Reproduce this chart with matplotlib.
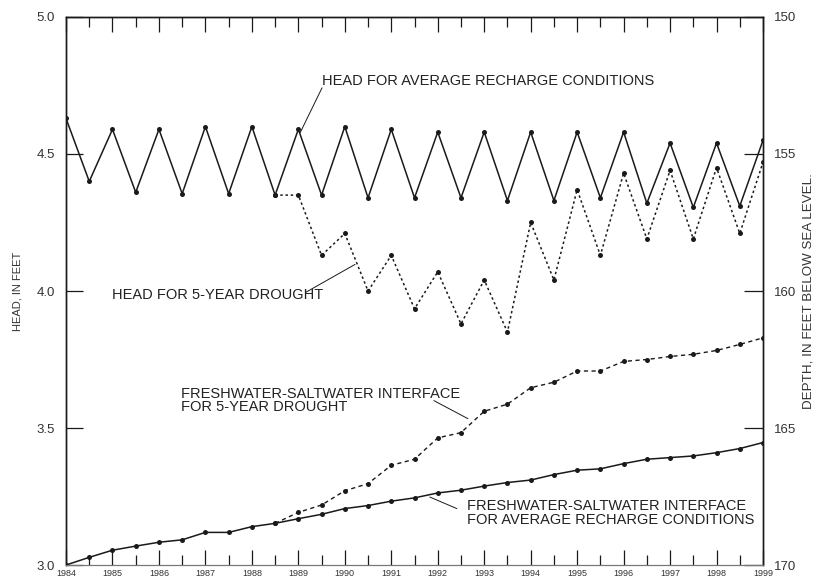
import matplotlib
matplotlib.use("Agg")
import matplotlib.pyplot as plt
import numpy as np

plt.rcParams['font.family'] = ['Liberation Sans', 'DejaVu Sans']

# time steps: half-year intervals 1984.0 .. 1999.0
years = [1984 + 0.5 * i for i in range(31)]
year_labels = [str(y) for y in range(1984, 2000)]

# head, in feet (left axis)
head_avg = [4.63, 4.40, 4.59, 4.36, 4.59, 4.355, 4.60, 4.355, 4.60, 4.35,
            4.59, 4.35, 4.60, 4.34, 4.59, 4.34, 4.58, 4.34, 4.58, 4.33,
            4.58, 4.33, 4.58, 4.34, 4.58, 4.32, 4.54, 4.305, 4.54, 4.31, 4.55]
head_drought = [4.63, 4.40, 4.59, 4.36, 4.59, 4.355, 4.60, 4.355, 4.60, 4.35,
                4.35, 4.13, 4.21, 4.00, 4.13, 3.935, 4.07, 3.88, 4.04, 3.85,
                4.25, 4.04, 4.37, 4.13, 4.43, 4.19, 4.44, 4.19, 4.45, 4.21, 4.47]

# freshwater-saltwater interface depth, feet below sea level (right axis)
iface_avg = [170.0, 169.72, 169.46, 169.31, 169.17, 169.08, 168.81, 168.81, 168.60, 168.48,
             168.31, 168.15, 167.94, 167.83, 167.67, 167.55, 167.37, 167.27, 167.12, 166.99,
             166.90, 166.70, 166.54, 166.49, 166.30, 166.14, 166.08, 166.02, 165.90, 165.75, 165.53]
iface_drought = [170.0, 169.72, 169.46, 169.31, 169.17, 169.08, 168.81, 168.81, 168.60, 168.48,
                 168.08, 167.81, 167.29, 167.03, 166.36, 166.14, 165.36, 165.17, 164.39, 164.13,
                 163.53, 163.33, 162.92, 162.92, 162.57, 162.50, 162.39, 162.31, 162.17, 161.95, 161.71]
split = 9  # drought scenario starts diverging after 1988.5

ink = '#1a1a1a'
fig = plt.figure(figsize=(8.2, 5.82), dpi=100)
ax = fig.add_axes([0.0805, 0.0292, 0.85, 0.9416])
ax2 = ax.twinx()

mk = dict(marker='o', markersize=3.6, color=ink, markerfacecolor=ink, markeredgewidth=0)

ax.plot(years, head_avg, linestyle='-', linewidth=1.1, **mk)
ax.plot(years[split:], head_drought[split:], linestyle=(0, (1.6, 1.8)), linewidth=1.1, **mk)
ax2.plot(years, iface_avg, linestyle='-', linewidth=1.1, **mk)
ax2.plot(years[split:], iface_drought[split:], linestyle=(0, (3, 2.5)), linewidth=1.0, **mk)

ax.set_xlim(1984, 1999)
ax.set_ylim(3.0, 5.0)
ax2.set_ylim(170, 150)

ax.set_yticks([3.0, 3.5, 4.0, 4.5, 5.0])
ax.set_yticklabels(['3.0', '3.5', '4.0', '4.5', '5.0'], fontsize=9.5, color='#333333')
ax2.set_yticks([150, 155, 160, 165, 170])
ax2.set_yticklabels(['150', '155', '160', '165', '170'], fontsize=9.5, color='#333333')

ax.set_xticks(list(range(1984, 2000)))
ax.set_xticklabels(year_labels, fontsize=6.5, color='#333333')
ax.set_xticks(years[1::2], minor=True)

ax.tick_params(axis='x', which='major', direction='in', length=11, width=0.9,
               top=True, bottom=True, pad=3, colors=ink, labelcolor='#333333')
ax.tick_params(axis='x', which='minor', direction='in', length=7, width=0.9,
               top=True, bottom=True, colors=ink)
ax.tick_params(axis='y', which='major', direction='in', length=12, width=0.9, pad=8,
               colors=ink, labelcolor='#333333')
ax2.tick_params(axis='y', which='major', direction='in', length=14, width=0.9, pad=8,
                colors=ink, labelcolor='#333333')

for a in (ax, ax2):
    for s in a.spines.values():
        s.set_color(ink)
        s.set_linewidth(1.0)
    a.spines['bottom'].set_color('#777777')
    a.spines['bottom'].set_linewidth(0.8)

fig.text(0.021, 0.50, 'HEAD, IN FEET', rotation=90, ha='center', va='center',
         fontsize=8, color='#333333')
fig.text(0.986, 0.50, 'DEPTH, IN FEET BELOW SEA LEVEL.', rotation=90, ha='center', va='center',
         fontsize=9.6, color='#333333')

fs = 10.5
tcol = '#222222'
lead = dict(arrowstyle='-', color=ink, lw=0.7, shrinkB=0, patchA=None)
ax.annotate('HEAD FOR AVERAGE RECHARGE CONDITIONS', xy=(1989.04, 4.578), xytext=(1989.51, 4.767),
            fontsize=fs, color=tcol, ha='left', va='center',
            arrowprops=dict(lead, shrinkA=0, relpos=(0.0, 0.0)))
ax.annotate('HEAD FOR 5-YEAR DROUGHT', xy=(1990.22, 4.097), xytext=(1985.0, 3.985),
            fontsize=fs, color=tcol, ha='left', va='center',
            arrowprops=dict(lead, shrinkA=0, relpos=(0.915, 0.7)))
ax.annotate('FRESHWATER-SALTWATER INTERFACE\nFOR 5-YEAR DROUGHT', xy=(1992.65, 3.534),
            xytext=(1986.48, 3.60), fontsize=fs, color=tcol, ha='left', va='center',
            linespacing=0.95,
            arrowprops=dict(lead, shrinkA=0, relpos=(0.905, 0.5)))
ax.annotate('FRESHWATER-SALTWATER INTERFACE\nFOR AVERAGE RECHARGE CONDITIONS', xy=(1991.83, 3.248),
            xytext=(1992.63, 3.19), fontsize=fs, color=tcol, ha='left', va='center',
            linespacing=0.95,
            arrowprops=dict(lead, shrinkA=8, relpos=(0.0, 0.5)))

fig.savefig('out.png', dpi=100)
